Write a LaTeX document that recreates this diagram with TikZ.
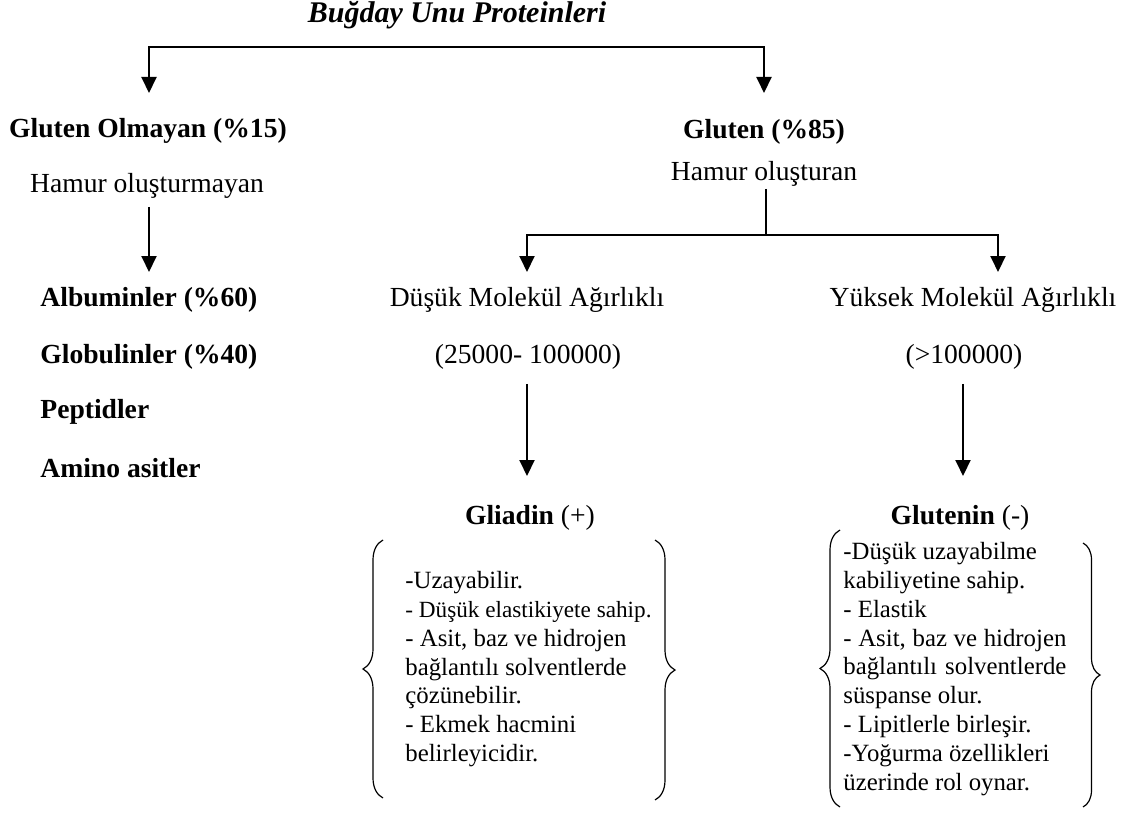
\documentclass[tikz,border=0pt]{standalone}
\usepackage{fontspec}
\setmainfont{Liberation Serif}
\usetikzlibrary{arrows.meta,decorations.pathreplacing}

\begin{document}
\begin{tikzpicture}[
  x=0.5pt, y=-0.5pt,
  txt/.style={inner sep=1pt, font=\fontsize{13.8}{16}\selectfont},
  head/.style={inner sep=1pt, font=\fontsize{13.8}{16}\selectfont\bfseries},
  item/.style={head, anchor=west},
  props/.style={inner sep=0pt, anchor=north west, align=left,
                font=\fontsize{12.4}{14.4}\selectfont},
  curly/.style={decorate, decoration={brace, amplitude=10pt}, line width=0.6pt},
  arr/.style={-{Triangle[width=7.5pt,length=8pt]}, line width=1pt},
  link/.style={line width=1pt}
]
\useasboundingbox (0,0) rectangle (1139,818);

% ---- Title ----
\node[inner sep=1pt, font=\fontsize{15}{18}\selectfont\bfseries\itshape] (title) at (457,15) {Buğday Unu Proteinleri};
\coordinate (topsplit) at (457,47);
\coordinate (ngtip) at (149,93);
\coordinate (gtip) at (764,93);

% ---- Left branch: non-gluten ----
\node[head] (nongluten) at (148,131) {Gluten Olmayan (\%15)};
\node[txt] (hnon) at (147,186) {Hamur oluşturmayan};
\coordinate (nontip) at (149,272);

\node[item] (alb) at (38,300) {Albuminler (\%60)};
\node[item] (glob) at (38,357) {Globulinler (\%40)};
\node[item] (pep) at (38,412) {Peptidler};
\node[item] (amino) at (38,468) {Amino asitler};

% ---- Right branch: gluten ----
\node[head] (gluten) at (764,132) {Gluten (\%85)};
\node[txt] (hglu) at (764,174) {Hamur oluşturan};
\coordinate (gsplit) at (766,235);
\coordinate (dtip) at (527,272);
\coordinate (ytip) at (998,272);

% ---- Molecular weight ----
\node[txt] (dmw) at (527,300) {Düşük Molekül Ağırlıklı};
\node[txt] (ymw) at (973,300) {Yüksek Molekül Ağırlıklı};
\node[txt] (drange) at (528,357) {(25000- 100000)};
\node[txt] (yrange) at (964,357) {(>100000)};
\coordinate (gltip) at (527,476);
\coordinate (gntip) at (963,476);

% ---- Fractions ----
\node[txt] (gliadin) at (530,518) {\textbf{Gliadin} (+)};
\node[txt] (glutenin) at (960,518) {\textbf{Glutenin} (-)};

\node[props] (gliprop) at (405,571) {
  -Uzayabilir.\\
  {\fontsize{11.6}{14.4}\selectfont - Düşük elastikiyete sahip.}\\
  - Asit, baz ve hidrojen\\
  bağlantılı solventlerde\\
  çözünebilir.\\
  - Ekmek hacmini\\
  belirleyicidir.
};
\node[props] (gluprop) at (843,542) {
  -Düşük uzayabilme\\
  kabiliyetine sahip.\\
  - Elastik\\
  \makebox[111.5pt][s]{- Asit, baz ve hidrojen}\\
  \makebox[111.5pt][s]{bağlantılı solventlerde}\\
  süspanse olur.\\
  - Lipitlerle birleşir.\\
  -Yoğurma özellikleri\\
  üzerinde rol oynar.
};

% ---- Braces ----
\draw[curly] (383,798) -- (383,540);
\draw[curly] (655,540) -- (655,800);
\draw[curly] (840,807) -- (840,530);
\draw[curly, decoration={amplitude=8.5pt}] (1083,543) -- (1083,807);

% ---- Edges ----
\draw[arr] (topsplit) -| (ngtip);
\draw[arr] (topsplit) -| (gtip);

\draw[arr, shorten <=3pt] (hnon.south -| nontip) -- (nontip);

\draw[link] (hglu.south -| gsplit) -- (gsplit);
\draw[arr] (gsplit) -| (dtip);
\draw[arr] (gsplit) -| (ytip);

\draw[arr, shorten <=6pt] (drange.south -| gltip) -- (gltip);
\draw[arr, shorten <=6pt] (yrange.south -| gntip) -- (gntip);

\end{tikzpicture}
\end{document}
